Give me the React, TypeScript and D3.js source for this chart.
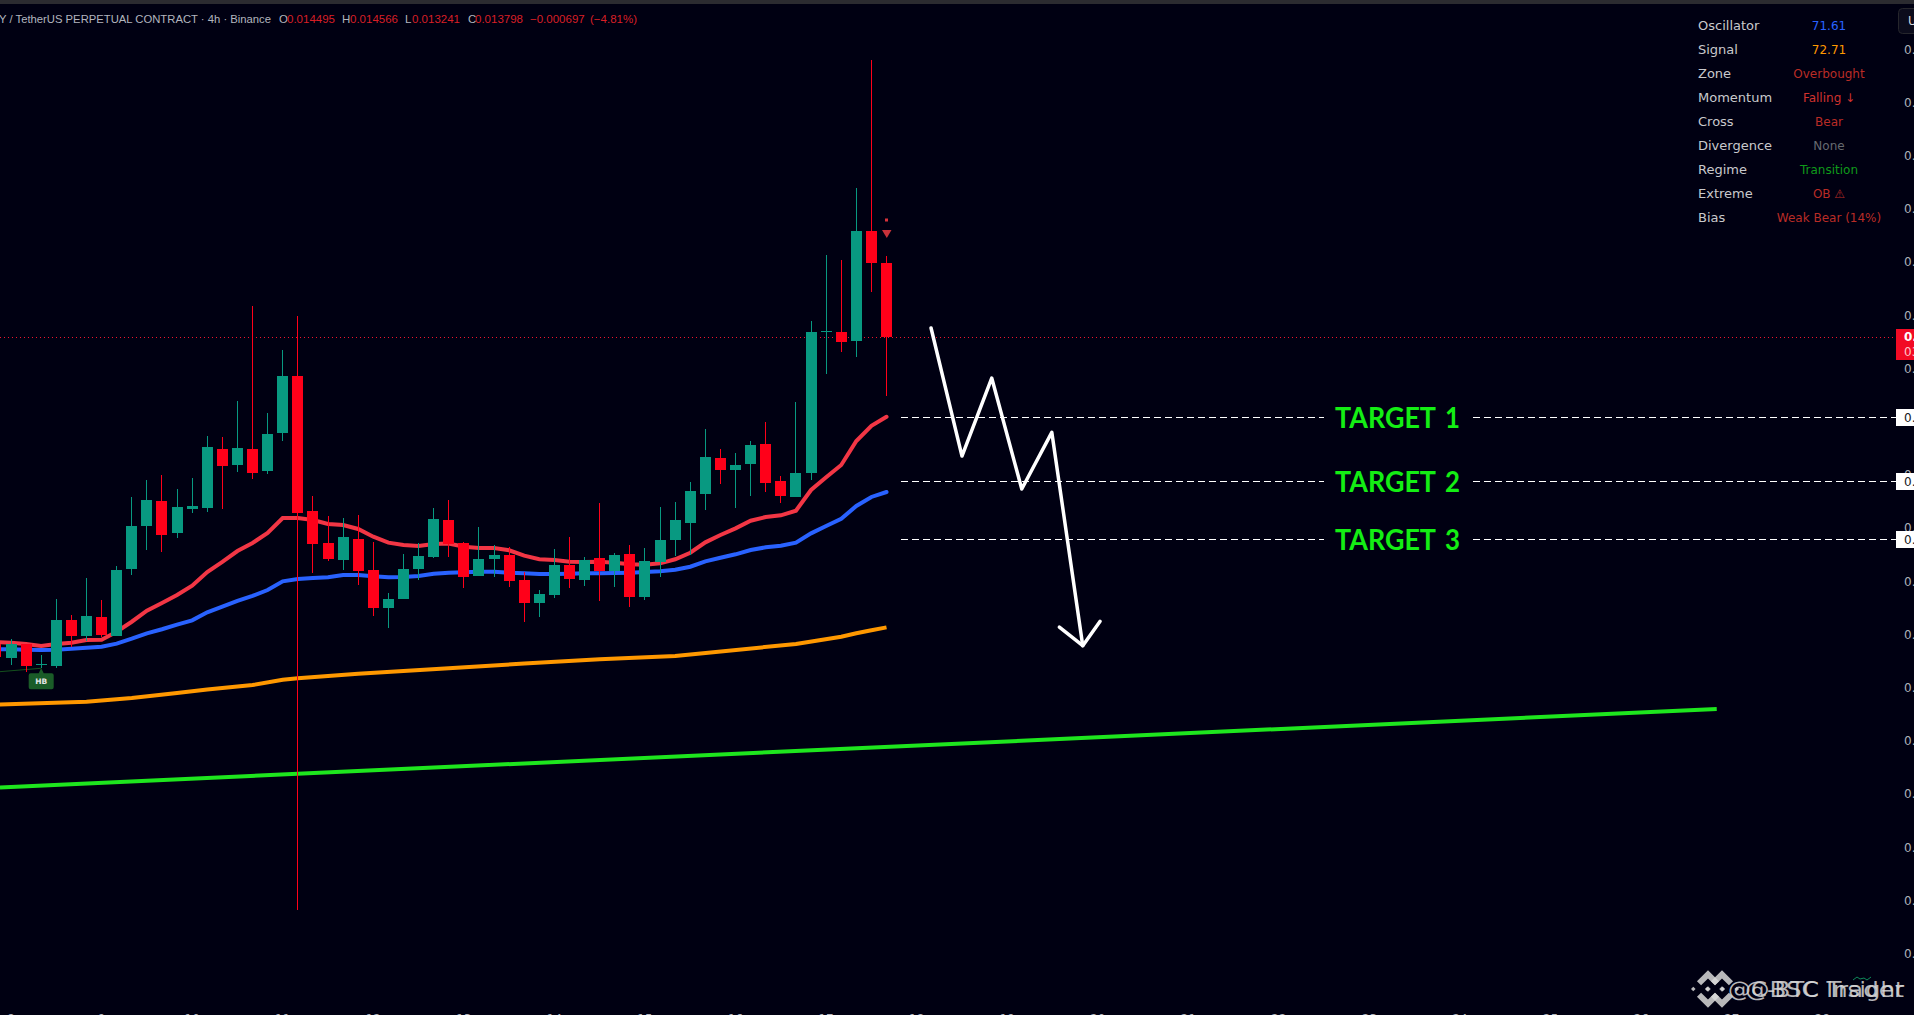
import React from "react";
import * as d3 from "d3";

// OHLC in millionths of a price unit. First bar is the one cut by the left edge.
const firstBarIndex = -1;
const opens = [10901,10772,10904,10693,10696,11127,10976,11156,10979,11608,12014,12250,11948,12175,12184,12741,12590,12741,12533,12892,13429,12156,11854,11693,11891,11599,11240,11325,11608,11722,12071,11854,11542,11703,11741,11505,11288,11363,11646,11505,11712,11590,11750,11344,11675,11882,12042,12316,12656,12542,12599,12788,12439,12288,12514,13843,13844,13759,14797,14495];
const highs = [10901,10948,10904,10797,11323,11175,11524,11316,11637,12288,12448,12495,12363,12467,12863,12854,13193,14090,13080,13675,13995,12297,12109,12090,12118,11863,11382,11750,11854,12184,12259,11863,12005,11835,11816,11580,11410,11797,11910,11722,12231,11759,11835,11807,12193,12241,12429,12929,12741,12703,12816,12995,12486,13184,13948,14571,14524,15203,16410,14566];
const lows = [10769,10703,10640,10672,10677,10870,10926,10964,10979,11552,11788,11769,11901,12137,12146,12175,12524,12458,12505,12816,8392,11571,11684,11599,11458,11165,11052,11325,11505,11712,11722,11429,11542,11533,11439,11108,11156,11335,11429,11448,11307,11439,11250,11316,11533,11731,11741,12165,12410,12184,12297,12335,12231,12288,12448,13451,13656,13609,14222,13241];
const closes = [10775,10901,10696,10712,11127,10979,11165,10986,11599,12014,12259,11929,12193,12203,12759,12580,12750,12514,12882,13429,12137,11844,11703,11910,11590,11240,11325,11608,11731,12080,11844,11533,11703,11741,11495,11288,11373,11646,11514,11693,11590,11741,11344,11684,11882,12071,12344,12665,12542,12590,12778,12420,12297,12514,13844,13855,13750,14797,14495,13798];

const redLine = [10920,10913,10901,10882,10901,10913,10939,10942,11017,11111,11215,11288,11363,11451,11580,11675,11778,11854,11948,12090,12090,12071,12033,12024,11986,11913,11857,11835,11825,11844,11849,11819,11807,11807,11785,11734,11700,11693,11677,11675,11677,11668,11653,11649,11662,11700,11762,11860,11929,11992,12064,12099,12115,12158,12354,12474,12590,12816,12960,13045];
const blueLine = [10851,10851,10847,10844,10847,10857,10866,10875,10904,10951,11002,11040,11083,11124,11200,11253,11307,11354,11410,11492,11514,11524,11530,11552,11552,11540,11530,11533,11542,11564,11574,11577,11583,11583,11574,11568,11561,11561,11564,11568,11568,11571,11574,11580,11587,11602,11630,11681,11715,11747,11788,11813,11828,11857,11945,12014,12083,12203,12288,12335];
const orangeIndex = [-1,5,8,11,13,16,18,19,23,29,34,39,44,52,55,56,57,58];
const orangeLine = [10328,10356,10391,10439,10471,10514,10564,10577,10621,10672,10717,10757,10788,10901,10970,11002,11030,11058];

const trendIndex = [-0.73,113.0];
const trendPrice = [9548,10288];

const zigzagIndex = [60.95,63,64.97,66.96,68.95,71,69.45,72.15];
const zigzagPrice = [13882,12674,13410,12363,12898,10885,11061,11115];

const targetNames = ["TARGET 1","TARGET 2","TARGET 3"];
const targetPrices = [13040,12439,11891];
const lastClose = 13798;
const signalBar = 58;
const hbBar = 2;

const priceTicks = [16500,16000,15500,15000,14500,14000,13500,13000,12500,12000,11500,11000,10500,10000,9500,9000,8500,8000];
const dayLabels = ["8","9","10","11","12","13","14","15","16","17","18","19","20","21","22","23","24","25","26","27","28"];

const panelLabels = ["Oscillator","Signal","Zone","Momentum","Cross","Divergence","Regime","Extreme","Bias"];
const panelValues = ["71.61","72.71","Overbought","Falling ↓","Bear","None","Transition","OB ⚠","Weak Bear (14%)"];
const panelColors = ["#2962ff","#ff9800","#b92c26","#d0322e","#b92c26","#666a70","#0f9a1a","#b92c26","#b92c26"];

const headerSegments: [string, number, string, number?][] = [
  ["Y / TetherUS PERPETUAL CONTRACT · 4h · Binance",-1,"#b2b5be",272],
  ["O",279,"#b2b5be"],["0.014495",287,"#d81f26"],
  ["H",342,"#b2b5be"],["0.014566",350,"#d81f26"],
  ["L",405,"#b2b5be"],["0.013241",412,"#d81f26"],
  ["C",468,"#b2b5be"],["0.013798",475,"#d81f26"],
  ["−0.000697",530,"#d81f26"],["(−4.81%)",590,"#d81f26"],
];

const W = 1914, H = 1015;
const BG = "#000012", UP = "#089981", DOWN = "#ff0019";
const AXIS_FONT = "'DejaVu Sans', sans-serif";

const x = d3.scaleLinear().domain([0,58]).range([11.007,11.007+58*15.095]);
const y = d3.scaleLinear().domain([13500,8500]).range([368.5,368.5+530]);
const axisY = d3.scaleLinear().domain([16500,8000]).range([49,953.4]);
const px = (i:number)=>Math.floor(x(i));

const line = d3.line<[number,number]>().x(d=>x(d[0])).y(d=>y(d[1])).curve(d3.curveLinear);
const series = (vals:number[], idx?:number[]) => line(vals.map((v,i)=>[idx?idx[i]:i+firstBarIndex, v] as [number,number])) as string;

const fmt = (p:number)=>(p/1e6).toFixed(6);

function BinanceLogo({cx,cy}:{cx:number,cy:number}) {
  const s = 4.6;
  const dia = (dx:number,dy:number,r:number)=>`M${cx+dx-r},${cy+dy}L${cx+dx},${cy+dy-r}L${cx+dx+r},${cy+dy}L${cx+dx},${cy+dy+r}Z`;
  const chev = (sgn:number)=>`M${cx-2.4*s},${cy+sgn*1.7*s}L${cx},${cy+sgn*4.1*s}L${cx+2.4*s},${cy+sgn*1.7*s}L${cx+1.5*s},${cy+sgn*0.8*s}L${cx},${cy+sgn*2.3*s}L${cx-1.5*s},${cy+sgn*0.8*s}Z`;
  return <g fill="#d8d8d8" fillOpacity={0.85}>
    <path d={dia(0,0,s*0.6)}/><path d={dia(-3.2*s,0,s*0.5)}/><path d={dia(3.2*s,0,s*0.5)}/>
    <path d={chev(1)}/><path d={chev(-1)}/>
  </g>;
}

export default function App() {
  const bars = opens.map((o,k)=>({i:k+firstBarIndex,o,h:highs[k],l:lows[k],c:closes[k]}));
  const zz = zigzagIndex.map((v,k)=>[v,zigzagPrice[k]] as [number,number]);
  const hbTop = y(10640);
  return (
    <svg width={W} height={H} viewBox={`0 0 ${W} ${H}`} style={{position:"absolute",left:0,top:0,display:"block"}}>
      <rect width={W} height={H} fill={BG}/>
      <rect width={W} height={4} fill="#2b2b30"/>

      {/* last price line */}
      <line x1={0} x2={1896} y1={Math.round(y(lastClose))+0.5} y2={Math.round(y(lastClose))+0.5} stroke="#f0142d" strokeWidth={1} strokeDasharray="1 3"/>

      {/* target lines */}
      {targetPrices.map((p,k)=>{
        const yy = Math.round(y(p))+0.5;
        const [word,num] = targetNames[k].split(" ");
        const label = {fill:"#14ee14",fontFamily:"Lato, sans-serif",fontWeight:700,fontSize:28};
        return <g key={k}>
          <line x1={901} x2={1324} y1={yy} y2={yy} stroke="#fff" strokeWidth={1} strokeDasharray="7 4"/>
          <line x1={1473} x2={1896} y1={yy} y2={yy} stroke="#fff" strokeWidth={1} strokeDasharray="7 4"/>
          <text x={1335} y={yy+10} {...label} textLength={101} lengthAdjust="spacingAndGlyphs">{word}</text>
          <text x={1445} y={yy+10} {...label} textLength={15} lengthAdjust="spacingAndGlyphs">{num}</text>
        </g>;
      })}

      {/* green trend line */}
      <path d={series(trendPrice,trendIndex)} fill="none" stroke="#1ee61e" strokeWidth={4}/>

      {/* moving averages */}
      <path d={series(orangeLine,orangeIndex)} fill="none" stroke="#ff9800" strokeWidth={4}/>
      <path d={series(blueLine)} fill="none" stroke="#2962ff" strokeWidth={4} strokeLinecap="round"/>
      <path d={series(redLine)} fill="none" stroke="#f23645" strokeWidth={4} strokeLinecap="round"/>

      {/* HB marker */}
      <path d={`M0,${hbTop}L${x(hbBar)},${y(10672)}`} stroke="#14501e" strokeWidth={1} fill="none"/>
      <path d={`M${x(hbBar)-10.5},${hbTop+1.5} l8,0 l2.5,-5 l2.5,5 l8,0 a2,2 0 0 1 2,2 v12 a2,2 0 0 1 -2,2 h-21 a2,2 0 0 1 -2,-2 v-12 a2,2 0 0 1 2,-2 Z`} fill="#1a5c28"/>
      <text x={x(hbBar)} y={hbTop+12} fill="#e6e6e6" fontSize={7.5} fontWeight={700} textAnchor="middle" fontFamily={AXIS_FONT}>HB</text>

      {/* candles */}
      <g shapeRendering="crispEdges">
        {bars.map(b=>{
          const col = b.c>=b.o?UP:DOWN;
          const top = Math.round(y(Math.max(b.o,b.c)));
          const bot = Math.round(y(Math.min(b.o,b.c)));
          const doji = bot-top<3;
          return <g key={b.i}>
            <rect x={px(b.i)} y={y(b.h)} width={1} height={y(b.l)-y(b.h)} fill={col}/>
            <rect x={px(b.i)-5} y={top} width={11} height={Math.max(doji?1:bot-top,1)} fill={col}/>
          </g>;
        })}
      </g>

      {/* signal marks */}
      <rect x={px(signalBar)-1} y={218.5} width={3} height={3} fill="#d8323a"/>
      <path d={`M${px(signalBar)-4},230 h9.5 l-4.7,8 Z`} fill="#c8323a"/>

      {/* drawn path */}
      <polyline points={zz.slice(0,6).map(d=>`${x(d[0])},${y(d[1])}`).join(" ")} fill="none" stroke="#fff" strokeWidth={3.5} strokeLinecap="round" strokeLinejoin="round"/>
      <polyline points={[zz[6],zz[5],zz[7]].map(d=>`${x(d[0])},${y(d[1])}`).join(" ")} fill="none" stroke="#fff" strokeWidth={3.5} strokeLinecap="round" strokeLinejoin="round"/>

      {/* header */}
      {headerSegments.map(([t,xx,c,len],k)=>(
        <text key={k} x={xx} y={23} fill={c} fontFamily="'Liberation Sans', sans-serif" fontSize={11.5} {...(len?{textLength:len,lengthAdjust:"spacingAndGlyphs"}:{})}>{t}</text>
      ))}

      {/* price axis */}
      {priceTicks.map(p=>(
        <text key={p} x={1904} y={axisY(p)+4.5} fill="#aeb1b8" fontFamily={AXIS_FONT} fontSize={12}>{(p/1e6).toFixed(4)}</text>
      ))}
      <g>
        <rect x={1896} y={329} width={18} height={31} fill="#f20a24"/>
        <text x={1904} y={341} fill="#fff" fontFamily={AXIS_FONT} fontSize={12} fontWeight={600}>{fmt(lastClose)}</text>
        <text x={1904} y={356} fill="#ffc4ca" fontFamily={AXIS_FONT} fontSize={12}>03:12:40</text>
      </g>
      {targetPrices.map((p,k)=>{
        const yy = Math.round(y(p))+0.5;
        return <g key={k}>
          <rect x={1896} y={yy-8.5} width={18} height={17} fill="#fff"/>
          <text x={1904} y={yy+4.5} fill="#131722" fontFamily={AXIS_FONT} fontSize={12}>{fmt(p)}</text>
        </g>;
      })}

      {/* time axis */}
      {dayLabels.map((d,k)=>(
        <text key={d} x={x(k*6)} y={1022.5} fill="#b2b5be" fontFamily={AXIS_FONT} fontSize={12} textAnchor="middle">{d}</text>
      ))}

      {/* status table */}
      {panelLabels.map((l,k)=>(
        <g key={l}>
          <text x={1698} y={29.5+k*24} fill="#c9c9cc" fontFamily={AXIS_FONT} fontSize={13}>{l}</text>
          <text x={1829} y={29.5+k*24} fill={panelColors[k]} fontFamily={AXIS_FONT} fontSize={12} textAnchor="middle">{panelValues[k]}</text>
        </g>
      ))}

      {/* top right button */}
      <rect x={1898.5} y={8.5} width={30} height={25} rx={4} fill="#0c0c1c" stroke="#26262c"/>
      <text x={1908} y={25} fill="#d8d8dc" fontFamily={AXIS_FONT} fontSize={12}>UTC</text>

      {/* watermark */}
      <BinanceLogo cx={1708} cy={989}/>
      <BinanceLogo cx={1722} cy={989}/>
      <path d="M1853,980 l4,-3 l3,2 l4,-1 l3,2 l4,-3" fill="none" stroke="#0f8a5a" strokeWidth={1}/>
      <text x={1728} y={997} fill="#d8d8d8" fillOpacity={0.85} fontFamily={AXIS_FONT} fontSize={21} textLength={176} lengthAdjust="spacingAndGlyphs">@C-BTC Insight</text>
      <text x={1745} y={997} fill="#d8d8d8" fillOpacity={0.85} fontFamily={AXIS_FONT} fontSize={21} textLength={159} lengthAdjust="spacingAndGlyphs">@BSC Trader</text>
    </svg>
  );
}
